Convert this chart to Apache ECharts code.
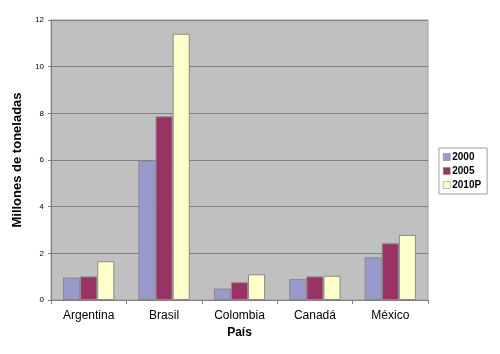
<!DOCTYPE html>
<html><head><meta charset="utf-8">
<script src="https://cdn.jsdelivr.net/npm/echarts@6/dist/echarts.min.js"></script>
<style>html,body{margin:0;padding:0;background:#fff}#c{width:500px;height:354px}</style>
</head><body><div id="c"></div>
<script>
const categories = ['Argentina','Brasil','Colombia','Canadá','México'];
const s2000 = [0.96, 5.97, 0.49, 0.90, 1.83];
const s2005 = [1.01, 7.87, 0.76, 1.01, 2.43];
const s2010 = [1.66, 11.41, 1.10, 1.04, 2.79];
const seriesNames = ['2000','2005','2010P'];
const colors = ['#9999CC','#993366','#FFFFCC'];
const yMin = 0, yMax = 12, yInterval = 2;

const chart = echarts.init(document.getElementById('c'));
const data = [s2000, s2005, s2010];
chart.setOption({
  animation:false,
  grid:{left:51,top:20,width:377,height:280,show:true,backgroundColor:'#C0C0C0',borderColor:'#A0A0A0',borderWidth:1},
  legend:{
    orient:'vertical', left:439, top:148, itemWidth:7, itemHeight:7, itemGap:4, icon:'rect',
    backgroundColor:'#fff', borderColor:'#A0A0A0', borderWidth:1, padding:[4,6,4,4],
    textStyle:{fontFamily:'Liberation Sans, Arial', fontSize:10, fontWeight:'bold', color:'#000', padding:[0,0,0,-3]},
    data: seriesNames.map((n,i)=>({name:n, itemStyle:{color:colors[i], borderColor:'#808080', borderWidth:0.5}}))
  },
  xAxis:{
    type:'category', data:categories,
    name:'País', nameLocation:'middle', nameGap:27,
    nameTextStyle:{fontFamily:'Liberation Sans, Arial', fontSize:12, fontWeight:'bold', color:'#000'},
    axisLine:{lineStyle:{color:'#808080'}},
    axisTick:{show:true, length:4, lineStyle:{color:'#808080'}},
    axisLabel:{fontFamily:'Liberation Sans, Arial', fontSize:12, color:'#000', margin:10}
  },
  yAxis:{
    type:'value', min:yMin, max:yMax, interval:yInterval,
    name:'Millones de toneladas', nameLocation:'middle', nameGap:25,
    nameTextStyle:{fontFamily:'Liberation Sans, Arial', fontSize:13, fontWeight:'bold', color:'#000'},
    axisLine:{show:true, lineStyle:{color:'#808080'}},
    axisTick:{show:true, length:3, lineStyle:{color:'#808080'}},
    axisLabel:{fontFamily:'Liberation Sans, Arial', fontSize:8, color:'#000', margin:7},
    splitLine:{lineStyle:{color:'#808080', width:1}}
  },
  series: seriesNames.map((n,i)=>({
    name:n, type:'bar', data:data[i], barGap:'0%', barCategoryGap:'32%',
    itemStyle:{color:colors[i], borderColor:'#8a8a8a', borderWidth:1}
  }))
});
</script></body></html>
